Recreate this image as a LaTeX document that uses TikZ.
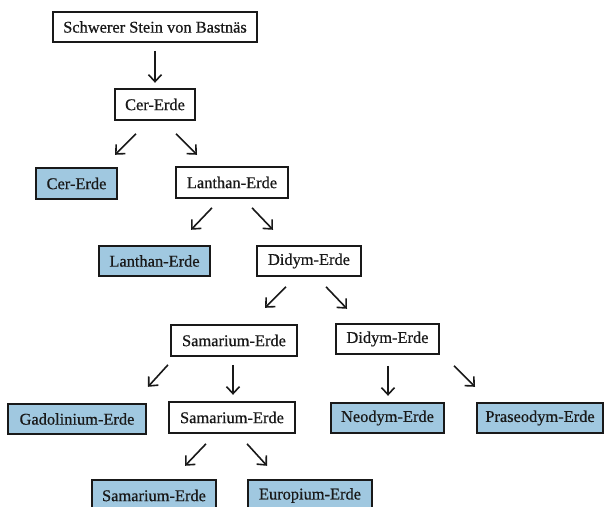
\documentclass[tikz,border=0pt]{standalone}
\usepackage{fontspec}
\setmainfont[FakeBold=0.6]{Liberation Serif}
\usetikzlibrary{arrows.meta,calc}
\definecolor{boxblue}{RGB}{160,200,224}
\definecolor{boxline}{RGB}{25,25,25}
\tikzset{
  box/.style={draw=boxline, line width=1.6pt, inner sep=0pt, minimum height=30pt,
    font=\fontsize{16.4}{19}\selectfont, fill=white, text=boxline},
  leaf/.style={box, fill=boxblue},
  arr/.style={line width=1.6pt, draw=boxline, -{Straight Barb[length=7pt,width=13pt,line width=1.6pt]}}
}
\begin{document}
\begin{tikzpicture}[x=1pt,y=1pt]
\useasboundingbox (0,0) rectangle (604,-506);
\fill[white] (0,0) rectangle (604,-506);
\node[box, minimum width=204pt] (stein) at (155,-27) {Schwerer Stein von Bastnäs};
\node[box, minimum width=80pt, minimum height=31pt] (cer) at (155,-104.5) {Cer-Erde};
\node[leaf, minimum width=81pt, minimum height=31pt] (cerb) at (76.5,-183.5) {Cer-Erde};
\node[box, minimum width=112pt, minimum height=31pt] (lan) at (232,-182.5) {Lanthan-Erde};
\node[leaf, minimum width=111pt] (lanb) at (154.5,-261) {Lanthan-Erde};
\node[box, minimum width=104pt] (did) at (309,-261) {Didym-Erde};
\node[box, minimum width=126pt, minimum height=31pt] (sam) at (234,-340.5) {Samarium-Erde};
\node[box, minimum width=103pt] (did2) at (387.5,-339) {Didym-Erde};
\node[leaf, minimum width=138pt] (gad) at (77,-419) {Gadolinium-Erde};
\node[box, minimum width=126pt, minimum height=31pt] (sam2) at (232,-417.5) {Samarium-Erde};
\node[leaf, minimum width=113pt] (neo) at (387.5,-418) {Neodym-Erde};
\node[leaf, minimum width=126pt] (pra) at (540,-418) {Praseodym-Erde};
\node[leaf, minimum width=124pt, minimum height=31pt] (samb) at (154,-495.5) {Samarium-Erde};
\node[leaf, minimum width=124pt, minimum height=31pt] (eur) at (310,-495.5) {Europium-Erde};

\draw[arr] ($(stein.south)+(0,-8)$) -- ++(0,-32);
\draw[arr] ($(cer.south)+(-19,-13)$) -- ++(-21,-21);
\draw[arr] ($(cer.south)+(21,-13)$) -- ++(21,-21);
\draw[arr] ($(lan.south)+(-20,-9)$) -- ++(-21,-22);
\draw[arr] ($(lan.south)+(20,-9)$) -- ++(21,-22);
\draw[arr] ($(did.south)+(-23,-10)$) -- ++(-21,-21);
\draw[arr] ($(did.south)+(17,-10)$) -- ++(21,-22);
\draw[arr] ($(sam.south)+(-66,-8)$) -- ++(-20,-22);
\draw[arr] ($(sam.south)+(-1,-8)$) -- ++(0,-30);
\draw[arr] ($(did2.south)+(0.5,-11)$) -- ++(0,-30);
\draw[arr] ($(did2.south)+(66.5,-11)$) -- ++(21,-21);
\draw[arr] ($(sam2.south)+(-26,-10)$) -- ++(-21,-22);
\draw[arr] ($(sam2.south)+(15,-10)$) -- ++(20,-22);
\end{tikzpicture}
\end{document}
